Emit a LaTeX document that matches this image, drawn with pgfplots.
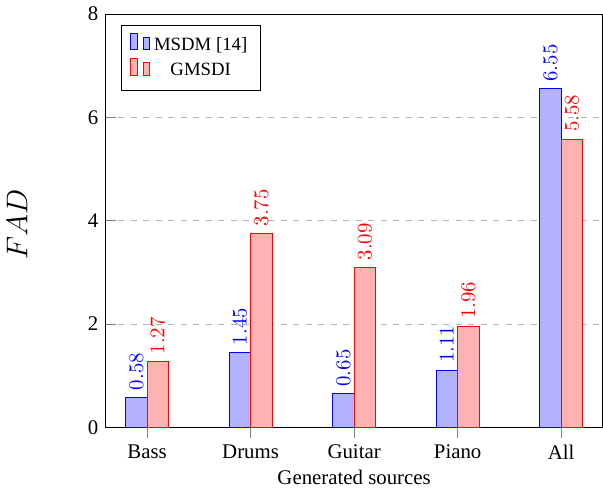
\documentclass[border=0pt]{standalone}
\usepackage{pgfplots}
\pgfplotsset{compat=1.18}
\usepackage{fontspec}
\setmainfont{Liberation Serif}
\begin{document}
\begin{tikzpicture}
\begin{axis}[
  scale only axis,
  width=238.6pt, height=198.5pt,
  ybar=0pt,
  bar width=10.3pt,
  xmin=-0.4, xmax=4.4,
  ymin=0, ymax=8,
  xtick={0,1,2,3,4},
  xticklabels={Bass,Drums,Guitar,Piano,All},
  ytick={0,2,4,6,8},
  xtick pos=left, ytick pos=left,
  x tick style={gray, line width=0.4pt},
  xtick align=outside,
  major tick length=5pt,
  y tick style={gray},
  yticklabel style={/pgf/number format/assume math mode=true},
  ymajorgrids,
  major grid style={dashed, gray!60},
  xlabel={Generated sources},
  xlabel style={yshift=2pt},
  ylabel={\Large $FAD$},
  ylabel style={at={(axis description cs:-0.178,0.49)}, anchor=center},
  nodes near coords,
  every node near coord/.append style={rotate=90, anchor=west, font=\normalsize},
  legend style={at={(axis description cs:0.03,0.973)}, anchor=north west, font=\small, inner xsep=4.5pt, inner ysep=3.5pt, row sep=0pt},
  legend cell align=center,
]
\addplot[draw=blue, fill=blue!30, nodes near coords style={text=blue}] coordinates {(0,0.58) (1,1.45) (2,0.65) (3,1.11) (4,6.55)};
\addplot[draw=red, fill=red!30, nodes near coords style={text=red}] coordinates {(0,1.27) (1,3.75) (2,3.09) (3,1.96) (4,5.58)};
\legend{MSDM [14], GMSDI}
\end{axis}
\end{tikzpicture}
\end{document}
